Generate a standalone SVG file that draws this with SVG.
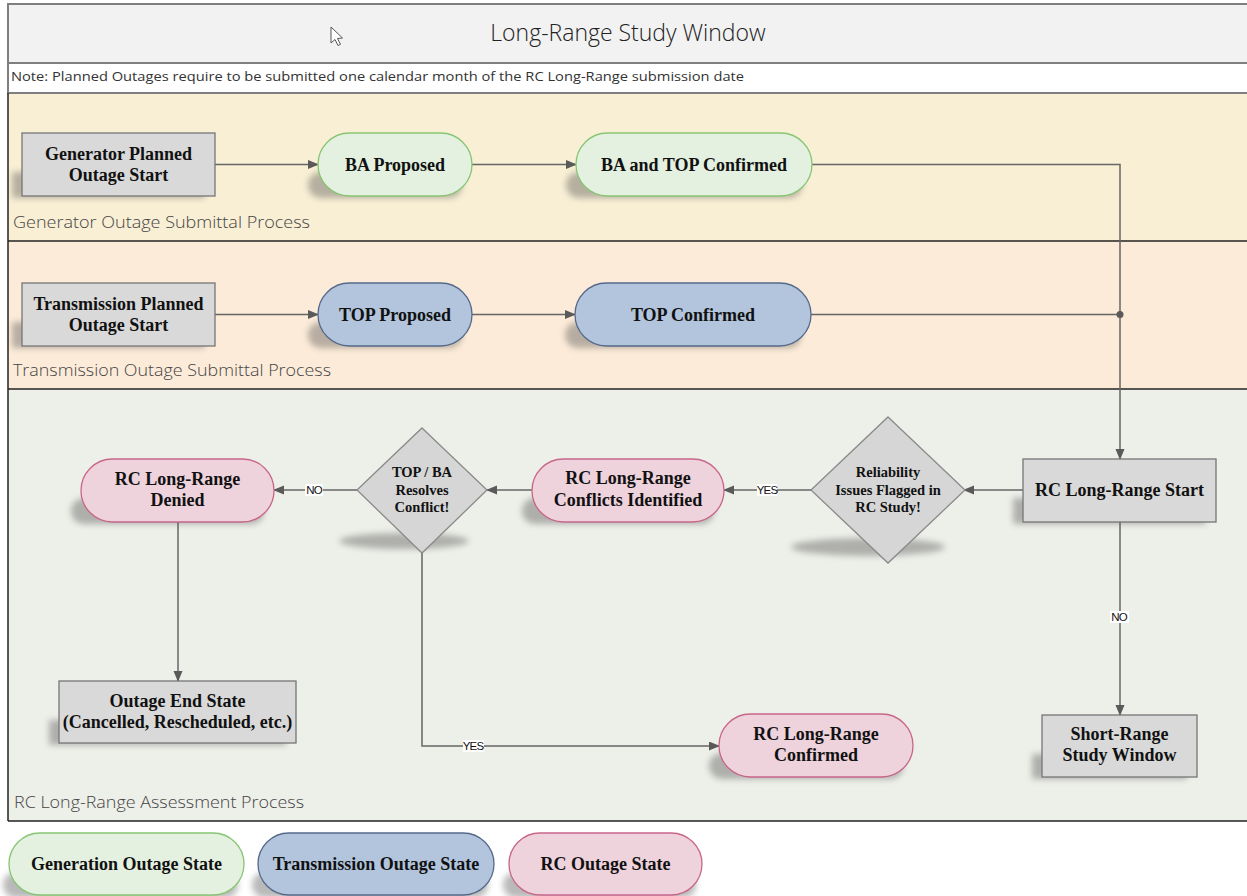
<svg xmlns="http://www.w3.org/2000/svg" width="1247" height="896" viewBox="0 0 1247 896">
<defs>
<style>
.lane{stroke:#222;stroke-width:1.5}
.hdr{fill:#f2f2f2;stroke:#7f7f7f;stroke-width:2}
.note{fill:#fff;stroke:#7f7f7f;stroke-width:2}
.box{fill:#d9d9d9;stroke:#767676;stroke-width:1.3}
.dia{fill:#d6d6d6;stroke:#8a8a8a;stroke-width:1.3}
.gen{fill:#e4f0e0;stroke:#86c672;stroke-width:1.3}
.tra{fill:#b2c5dd;stroke:#56698a;stroke-width:1.3}
.rc{fill:#eed2dc;stroke:#c8668a;stroke-width:1.3}
.sh{fill:#4a4a4a;opacity:.38;filter:url(#blur)}
.t{font-family:"Liberation Serif","Times New Roman",serif;font-weight:bold;font-size:18px;fill:#111;text-anchor:middle}
.td{font-family:"Liberation Serif","Times New Roman",serif;font-weight:bold;font-size:14.5px;fill:#111;text-anchor:middle}
.ll{font-family:"Open Sans","Noto Sans",sans-serif;font-weight:300;font-size:17px;fill:#444}
.el{font-family:"Liberation Sans",Arial,sans-serif;font-size:11.5px;fill:#111;text-anchor:middle;letter-spacing:-0.8px}
.c{fill:none;stroke:#666;stroke-width:1.5}
</style>
<filter id="blur" x="-20%" y="-50%" width="140%" height="200%"><feGaussianBlur stdDeviation="3"/></filter>
<marker id="ah" markerUnits="userSpaceOnUse" markerWidth="12" markerHeight="10" refX="10" refY="4.5" orient="auto"><path d="M0,0 L11,4.5 L0,9 z" fill="#5a5a5a"/></marker>
</defs>

<!-- lanes / frame -->
<g id="frame">
<rect x="0" y="0" width="1247" height="896" fill="#fff"/>
<rect x="8" y="93" width="1240" height="148" fill="#f9efd5"/>
<rect x="8" y="241" width="1240" height="148" fill="#fcebd8"/>
<rect x="8" y="389" width="1240" height="432" fill="#edefe9"/>
<rect class="hdr" x="8" y="4" width="1240" height="59"/>
<rect class="note" x="8" y="63" width="1240" height="30"/>
<line class="lane" x1="8" y1="241" x2="1247" y2="241"/>
<line class="lane" x1="8" y1="389" x2="1247" y2="389"/>
<line class="lane" x1="8" y1="821" x2="1247" y2="821"/>
<line class="lane" x1="8" y1="93" x2="8" y2="821"/>
<text x="628" y="41" style="font-family:'Open Sans','Noto Sans',sans-serif;font-weight:300;font-size:23px;fill:#222" text-anchor="middle">Long-Range Study Window</text>
<text x="11" y="81" style="font-family:'Open Sans','Noto Sans',sans-serif;font-size:12.5px;fill:#333" textLength="733" lengthAdjust="spacingAndGlyphs">Note: Planned Outages require to be submitted one calendar month of the RC Long-Range submission date</text>
<text class="ll" x="13" y="228" textLength="297" lengthAdjust="spacingAndGlyphs">Generator Outage Submittal Process</text>
<text class="ll" x="13" y="376" textLength="318" lengthAdjust="spacingAndGlyphs">Transmission Outage Submittal Process</text>
<text class="ll" x="14" y="808" textLength="290" lengthAdjust="spacingAndGlyphs">RC Long-Range Assessment Process</text>
<path d="M331,27 L331,43 L335,39.5 L338,45.5 L340.5,44.3 L337.5,38.5 L342.5,38 Z" fill="#fff" stroke="#555" stroke-width="1"/>
</g>

<!-- connectors -->
<g id="connectors">
<path class="c" d="M215,164.5 H318" marker-end="url(#ah)"/>
<path class="c" d="M472,164.5 H576" marker-end="url(#ah)"/>
<path class="c" d="M812,164.5 H1120 V459" marker-end="url(#ah)"/>
<path class="c" d="M215,314.5 H318" marker-end="url(#ah)"/>
<path class="c" d="M472,314.5 H575" marker-end="url(#ah)"/>
<path class="c" d="M811,314.5 H1120"/>
<circle cx="1120" cy="314.5" r="3.5" fill="#5a5a5a"/>
<path class="c" d="M1023,490 H964" marker-end="url(#ah)"/>
<path class="c" d="M811,490 H724" marker-end="url(#ah)"/>
<path class="c" d="M532,490 H487" marker-end="url(#ah)"/>
<path class="c" d="M357,490 H274" marker-end="url(#ah)"/>
<path class="c" d="M178,522 V681" marker-end="url(#ah)"/>
<path class="c" d="M422,553 V746 H719" marker-end="url(#ah)"/>
<path class="c" d="M1120,522 V715" marker-end="url(#ah)"/>
<rect x="757" y="484" width="20" height="12" fill="#fff"/>
<text class="el" x="767" y="494">YES</text>
<rect x="305" y="484" width="18" height="12" fill="#fff"/>
<text class="el" x="314" y="494">NO</text>
<rect x="463" y="740" width="21" height="12" fill="#fff"/>
<text class="el" x="473" y="750">YES</text>
<rect x="1110" y="611" width="19" height="12" fill="#fff"/>
<text class="el" x="1119" y="621">NO</text>
</g>

<g id="gen_start">
<rect class="sh" x="12" y="172" width="193" height="26"/>
<rect class="box" x="22" y="133" width="193" height="63"/>
<text class="t" x="118.5" y="160">Generator Planned</text>
<text class="t" x="118.5" y="181">Outage Start</text>
</g>
<g id="ba_proposed">
<rect class="sh" x="308" y="172" width="154" height="26" rx="13"/>
<rect class="gen" x="318" y="133" width="154" height="63" rx="31.5"/>
<text class="t" x="395" y="170.5">BA Proposed</text>
</g>
<g id="ba_top_confirmed">
<rect class="sh" x="566" y="172" width="236" height="26" rx="13"/>
<rect class="gen" x="576" y="133" width="236" height="63" rx="31.5"/>
<text class="t" x="694" y="170.5">BA and TOP Confirmed</text>
</g>

<g id="trans_start">
<rect class="sh" x="12" y="322" width="193" height="26"/>
<rect class="box" x="22" y="283" width="193" height="63"/>
<text class="t" x="118.5" y="310">Transmission Planned</text>
<text class="t" x="118.5" y="331">Outage Start</text>
</g>
<g id="top_proposed">
<rect class="sh" x="308" y="322" width="154" height="26" rx="13"/>
<rect class="tra" x="318" y="283" width="154" height="63" rx="31.5"/>
<text class="t" x="395" y="320.5">TOP Proposed</text>
</g>
<g id="top_confirmed">
<rect class="sh" x="565" y="322" width="236" height="26" rx="13"/>
<rect class="tra" x="575" y="283" width="236" height="63" rx="31.5"/>
<text class="t" x="693" y="320.5">TOP Confirmed</text>
</g>

<g id="rc_start">
<rect class="sh" x="1013" y="498" width="193" height="26"/>
<rect class="box" x="1023" y="459" width="193" height="63"/>
<text class="t" x="1119.5" y="496">RC Long-Range Start</text>
</g>
<g id="reliability">
<ellipse class="sh" cx="868" cy="547" rx="77" ry="9"/>
<polygon class="dia" points="888,417 965,490 888,563 811,490"/>
<text class="td" x="888" y="477">Reliability</text>
<text class="td" x="888" y="494.5">Issues Flagged in</text>
<text class="td" x="888" y="512">RC Study!</text>
</g>
<g id="conflicts">
<rect class="sh" x="522" y="498" width="192" height="26" rx="13"/>
<rect class="rc" x="532" y="459" width="192" height="63" rx="31.5"/>
<text class="t" x="628" y="484">RC Long-Range</text>
<text class="t" x="628" y="506">Conflicts Identified</text>
</g>
<g id="resolves">
<ellipse class="sh" cx="404" cy="541" rx="65" ry="8"/>
<polygon class="dia" points="422,428 487,490 422,553 357,490"/>
<text class="td" x="422" y="477">TOP / BA</text>
<text class="td" x="422" y="494.5">Resolves</text>
<text class="td" x="422" y="512">Conflict!</text>
</g>
<g id="denied">
<rect class="sh" x="71" y="498" width="193" height="26" rx="13"/>
<rect class="rc" x="81" y="459" width="193" height="63" rx="31.5"/>
<text class="t" x="177.5" y="485">RC Long-Range</text>
<text class="t" x="177.5" y="506">Denied</text>
</g>
<g id="end_state">
<rect class="sh" x="49" y="720" width="237" height="25"/>
<rect class="box" x="59" y="681" width="237" height="62"/>
<text class="t" x="177.5" y="707">Outage End State</text>
<text class="t" x="177.5" y="728">(Cancelled, Rescheduled, etc.)</text>
</g>
<g id="rc_confirmed">
<rect class="sh" x="709" y="753" width="194" height="26" rx="13"/>
<rect class="rc" x="719" y="714" width="194" height="63" rx="31.5"/>
<text class="t" x="816" y="740">RC Long-Range</text>
<text class="t" x="816" y="761">Confirmed</text>
</g>
<g id="short_range">
<rect class="sh" x="1032" y="754" width="155" height="25"/>
<rect class="box" x="1042" y="715" width="155" height="62"/>
<text class="t" x="1119.5" y="740">Short-Range</text>
<text class="t" x="1119.5" y="761">Study Window</text>
</g>

<g id="legend_gen">
<rect class="sh" x="3" y="872" width="235" height="26" rx="13"/>
<rect class="gen" x="9" y="833" width="235" height="62" rx="31"/>
<text class="t" x="126.5" y="870">Generation Outage State</text>
</g>
<g id="legend_trans">
<rect class="sh" x="252" y="872" width="236" height="26" rx="13"/>
<rect class="tra" x="258" y="833" width="236" height="62" rx="31"/>
<text class="t" x="376" y="870">Transmission Outage State</text>
</g>
<g id="legend_rc">
<rect class="sh" x="503" y="872" width="193" height="26" rx="13"/>
<rect class="rc" x="509" y="833" width="193" height="62" rx="31"/>
<text class="t" x="605.5" y="870">RC Outage State</text>
</g>
</svg>
